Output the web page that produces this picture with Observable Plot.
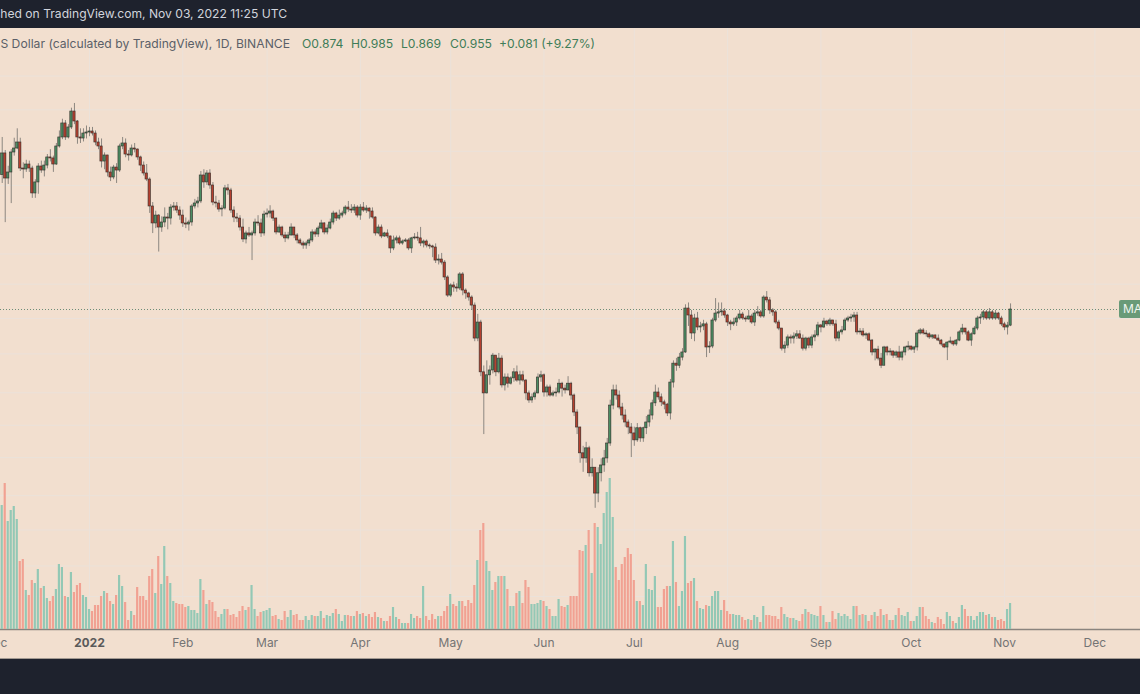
<!DOCTYPE html>
<html>
<head>
<meta charset="utf-8">
<script src="https://cdn.jsdelivr.net/npm/d3@7"></script>
<script src="https://cdn.jsdelivr.net/npm/@observablehq/plot@0.6"></script>
<style>
  html, body { margin: 0; padding: 0; width: 1140px; height: 694px; overflow: hidden; background: #1e222d; font-family: Inter, "Noto Sans", sans-serif; }
  #top { position: absolute; left: 0; top: 0; width: 1140px; height: 28px; background: #1e222d; overflow: hidden; }
  #top span { position: absolute; white-space: nowrap; color: #d1d4dc; top: 5px; line-height: 18px; }
  #pane { position: absolute; left: 0; top: 28px; width: 1140px; height: 630px; background: #f2dfcf; overflow: hidden; border-bottom: 1px solid #a39a92; }
  #pane svg { position: absolute; left: 0; top: 0; }
  .leg { position: absolute; white-space: nowrap; top: 8px; line-height: 16px; }
  #maLabel { position: absolute; left: 1119px; height: 18px; line-height: 18px; padding: 0 4px; background: #689a78; color: #eef5ef; font-size: 12px; border-radius: 2px; white-space: nowrap; }
</style>
</head>
<body>
<div id="top"><span id="pub">Published on TradingView.com, Nov 03, 2022 11:25 UTC</span></div>
<div id="pane">
  <div id="layers"></div>
  <span class="leg" id="legName" style="color:#5b5f68">MATIC / US Dollar (calculated by TradingView), 1D, BINANCE</span>
  <span class="leg ohlc" id="legO">O0.874</span>
  <span class="leg ohlc" id="legH">H0.985</span>
  <span class="leg ohlc" id="legL">L0.869</span>
  <span class="leg ohlc" id="legC">C0.955</span>
  <span class="leg ohlc" id="legChg">+0.081 (+9.27%)</span>
  <div id="maLabel">MATICUSD</div>
</div>
<script>
// ---------- DATA (daily candles, Binance MATIC/USD, from 2021-12-03) ----------
const firstOpen = 2.00;
const close = [
  // Dec 2021 (3..31)
  2.253,1.963,2.029,2.265,2.315,2.393,2.074,2.063,2.120,2.074,1.808,1.921,2.097,2.051,2.108,2.204,2.192,2.120,2.341,2.460,2.657,2.460,2.599,2.837,2.686,2.460,2.446,2.514,2.528,
  // Jan 2022
  2.542,2.514,2.393,2.341,2.155,2.228,2.029,1.974,2.085,2.051,2.341,2.380,2.240,2.228,2.315,2.302,2.204,2.108,2.018,1.952,1.683,1.533,1.601,1.499,1.541,1.584,1.575,1.673,1.683,1.646,1.601,
  // Feb
  1.533,1.524,1.541,1.683,1.711,1.730,1.996,1.921,2.018,1.889,1.720,1.711,1.655,1.664,1.859,1.838,1.646,1.584,1.575,1.499,1.404,1.451,1.435,1.451,1.541,1.533,1.451,1.610,
  // Mar
  1.619,1.637,1.575,1.459,1.499,1.435,1.412,1.435,1.499,1.435,1.396,1.373,1.358,1.373,1.396,1.459,1.443,1.491,1.533,1.459,1.491,1.541,1.619,1.575,1.601,1.619,1.673,1.655,1.646,1.673,1.601,
  // Apr
  1.673,1.646,1.664,1.637,1.584,1.451,1.499,1.427,1.451,1.427,1.336,1.396,1.412,1.373,1.388,1.396,1.336,1.412,1.419,1.412,1.373,1.388,1.358,1.351,1.343,1.250,1.257,1.236,1.139,1.031,
  // May
  1.090,1.078,1.072,1.158,1.060,1.043,1.020,0.976,0.814,0.889,0.676,0.602,0.665,0.683,0.741,0.676,0.729,0.629,0.657,0.635,0.654,0.676,0.646,0.665,0.646,0.602,0.579,0.589,0.602,0.657,0.665,
  // Jun
  0.605,0.622,0.595,0.602,0.605,0.635,0.618,0.612,0.635,0.595,0.542,0.499,0.433,0.421,0.445,0.388,0.400,0.347,0.388,0.405,0.421,0.457,0.563,0.612,0.595,0.557,0.533,0.513,0.499,0.483,
  // Jul
  0.465,0.497,0.470,0.497,0.513,0.533,0.570,0.605,0.589,0.573,0.566,0.539,0.639,0.709,0.701,0.733,0.754,0.960,0.924,0.837,0.909,0.865,0.870,0.880,0.775,0.779,0.899,0.934,0.940,0.945,0.924,
  // Aug
  0.889,0.880,0.889,0.909,0.929,0.909,0.904,0.919,0.889,0.934,0.940,0.919,1.020,1.004,0.950,0.940,0.889,0.860,0.770,0.783,0.819,0.814,0.823,0.833,0.814,0.770,0.814,0.783,0.819,0.828,0.875,
  // Sep
  0.865,0.894,0.880,0.899,0.880,0.814,0.842,0.851,0.899,0.909,0.914,0.924,0.842,0.846,0.828,0.833,0.805,0.754,0.766,0.729,0.701,0.775,0.754,0.758,0.741,0.754,0.733,0.754,0.775,0.779,
  // Oct
  0.766,0.775,0.837,0.851,0.837,0.833,0.819,0.828,0.814,0.805,0.788,0.775,0.796,0.801,0.788,0.805,0.842,0.860,0.842,0.805,0.833,0.860,0.909,0.914,0.940,0.909,0.940,0.909,0.934,0.909,0.880,
  // Nov
  0.865,0.874,0.955
];
const high = [
  2.46,2.29,2.10,2.30,2.45,2.58,2.45,2.14,2.17,2.16,2.10,1.95,2.13,2.16,2.16,2.24,2.30,2.22,2.38,2.55,2.72,2.70,2.64,2.89,2.966,2.70,2.58,2.58,2.62,
  2.60,2.60,2.55,2.45,2.44,2.26,2.23,2.09,2.11,2.13,2.37,2.46,2.44,2.29,2.36,2.38,2.31,2.22,2.15,2.12,1.97,1.72,1.64,1.61,1.59,1.67,1.62,1.70,1.72,1.72,1.68,
  1.65,1.58,1.56,1.70,1.75,1.77,2.04,2.06,2.05,2.06,1.92,1.78,1.74,1.69,1.89,1.90,1.86,1.68,1.62,1.60,1.57,1.47,1.50,1.47,1.57,1.60,1.57,1.64,
  1.66,1.69,1.65,1.58,1.52,1.51,1.46,1.46,1.53,1.50,1.45,1.41,1.39,1.39,1.41,1.48,1.48,1.51,1.56,1.54,1.52,1.57,1.64,1.63,1.65,1.64,1.69,1.73,1.70,1.70,1.69,
  1.70,1.72,1.69,1.67,1.67,1.59,1.52,1.52,1.46,1.48,1.43,1.43,1.43,1.43,1.40,1.41,1.41,1.42,1.45,1.46,1.50,1.40,1.40,1.37,1.36,1.37,1.29,1.30,1.25,1.15,
  1.10,1.11,1.10,1.17,1.17,1.07,1.05,1.03,0.99,0.93,0.90,0.70,0.72,0.70,0.75,0.74,0.75,0.74,0.67,0.67,0.66,0.69,0.70,0.68,0.68,0.65,0.61,0.60,0.61,0.67,0.68,
  0.67,0.63,0.63,0.61,0.62,0.65,0.64,0.63,0.66,0.64,0.60,0.55,0.50,0.45,0.46,0.45,0.42,0.40,0.40,0.42,0.44,0.47,0.58,0.63,0.63,0.61,0.57,0.55,0.52,0.51,
  0.50,0.51,0.50,0.50,0.53,0.55,0.58,0.63,0.62,0.60,0.58,0.57,0.65,0.72,0.73,0.75,0.77,0.98,0.99,0.95,0.93,0.94,0.89,0.90,0.89,0.80,0.91,1.014,0.99,0.99,0.96,
  0.93,0.90,0.91,0.92,0.95,0.94,0.92,0.95,0.93,0.95,0.97,0.95,1.03,1.054,1.02,0.96,0.95,0.90,0.86,0.80,0.83,0.83,0.84,0.85,0.85,0.83,0.82,0.82,0.83,0.85,0.89,
  0.88,0.91,0.90,0.91,0.90,0.90,0.85,0.87,0.91,0.92,0.93,0.94,0.94,0.86,0.86,0.84,0.84,0.81,0.77,0.78,0.75,0.78,0.78,0.77,0.76,0.76,0.78,0.76,0.78,0.80,
  0.78,0.78,0.85,0.86,0.86,0.85,0.84,0.83,0.83,0.83,0.81,0.79,0.80,0.82,0.80,0.81,0.85,0.88,0.86,0.85,0.84,0.87,0.92,0.93,0.95,0.95,0.96,0.95,0.95,0.94,0.92,
  0.89,0.89,0.985
];
const low = [
  1.91,1.54,1.90,1.71,2.22,2.30,2.04,1.96,2.03,2.03,1.76,1.76,1.80,2.02,1.98,2.07,2.15,2.03,2.11,2.32,2.43,2.42,2.44,2.57,2.64,2.37,2.38,2.40,2.44,
  2.47,2.48,2.35,2.30,2.08,2.06,1.98,1.93,1.95,1.91,2.03,2.30,2.20,2.16,2.21,2.26,2.17,2.04,1.99,1.93,1.62,1.45,1.49,1.31,1.46,1.50,1.48,1.52,1.64,1.62,1.56,
  1.50,1.49,1.47,1.51,1.66,1.67,1.71,1.86,1.89,1.85,1.69,1.67,1.63,1.59,1.65,1.79,1.62,1.54,1.54,1.47,1.38,1.37,1.42,1.25,1.43,1.51,1.42,1.43,
  1.58,1.58,1.55,1.44,1.45,1.42,1.38,1.40,1.43,1.41,1.37,1.36,1.33,1.33,1.35,1.38,1.42,1.42,1.48,1.44,1.44,1.48,1.52,1.55,1.56,1.58,1.60,1.63,1.62,1.62,1.58,
  1.56,1.63,1.62,1.57,1.57,1.43,1.44,1.41,1.42,1.41,1.30,1.32,1.37,1.36,1.36,1.38,1.32,1.30,1.40,1.39,1.35,1.34,1.34,1.33,1.27,1.23,1.22,1.22,1.12,1.02,
  1.02,1.05,1.05,1.06,1.03,1.01,1.00,0.95,0.80,0.80,0.66,0.480,0.60,0.63,0.67,0.66,0.67,0.62,0.61,0.62,0.63,0.64,0.64,0.63,0.64,0.58,0.57,0.57,0.58,0.60,0.64,
  0.59,0.59,0.59,0.59,0.59,0.60,0.59,0.60,0.61,0.58,0.53,0.48,0.41,0.39,0.41,0.38,0.38,0.320,0.33,0.37,0.39,0.41,0.45,0.55,0.58,0.55,0.52,0.50,0.48,0.423,
  0.45,0.46,0.46,0.46,0.48,0.50,0.52,0.56,0.58,0.56,0.55,0.53,0.52,0.62,0.68,0.69,0.72,0.75,0.87,0.81,0.80,0.85,0.84,0.85,0.733,0.75,0.77,0.89,0.91,0.92,0.91,
  0.87,0.85,0.87,0.87,0.90,0.90,0.89,0.90,0.88,0.87,0.92,0.91,0.91,0.99,0.93,0.92,0.88,0.85,0.76,0.75,0.77,0.79,0.79,0.81,0.81,0.76,0.76,0.77,0.77,0.80,0.82,
  0.84,0.86,0.87,0.87,0.87,0.80,0.80,0.83,0.85,0.89,0.89,0.89,0.83,0.83,0.82,0.81,0.80,0.74,0.72,0.72,0.69,0.70,0.74,0.74,0.73,0.73,0.72,0.72,0.74,0.76,
  0.76,0.75,0.76,0.83,0.83,0.82,0.81,0.81,0.81,0.80,0.78,0.77,0.721,0.79,0.78,0.78,0.80,0.83,0.83,0.80,0.78,0.83,0.85,0.88,0.90,0.90,0.90,0.90,0.90,0.90,0.87,
  0.85,0.83,0.869
];
// volume, millions
const volume = [
  248,292,216,238,246,220,136,140,78,68,98,92,120,82,86,62,56,66,80,130,124,66,64,114,74,88,92,68,64,
  40,36,48,48,66,76,72,56,50,68,108,86,54,18,36,28,84,66,66,58,106,120,72,146,90,166,106,92,56,52,50,
  50,44,46,38,38,32,100,78,50,58,54,36,24,30,40,40,28,30,24,36,46,38,44,88,40,26,34,36,
  38,42,26,28,20,18,36,24,38,28,30,18,18,26,18,28,26,26,36,22,28,26,32,40,30,16,28,28,26,26,36,
  30,32,26,30,24,34,24,22,16,16,26,44,24,20,12,12,12,30,22,26,22,86,26,18,30,20,26,26,36,46,
  70,50,46,56,56,46,58,52,88,138,198,212,136,116,78,94,106,106,106,80,46,46,72,76,52,98,84,50,50,52,58,
  56,46,40,26,26,60,46,44,48,66,66,66,158,156,168,198,112,212,204,170,232,274,302,224,124,98,130,144,162,150,
  98,56,56,48,130,80,78,106,44,44,80,86,86,176,94,46,76,186,92,96,102,56,42,40,48,46,66,76,76,38,58,
  36,30,30,28,28,24,18,20,18,28,24,14,46,28,28,26,26,20,44,30,24,22,22,18,16,30,40,34,30,28,26,
  46,28,14,14,36,20,32,26,30,26,20,46,46,28,30,28,16,28,34,26,40,28,30,18,18,28,42,28,26,34,
  16,16,26,44,44,26,20,14,12,24,20,10,34,26,16,12,24,48,40,26,26,18,26,34,34,28,30,24,24,18,20,
  16,40,52
];
// price-scale grid levels (log scale)
const gridPrices = [3.449, 2.864, 2.280, 1.888, 1.581, 1.296, 1.098, 0.909, 0.748, 0.604, 0.505, 0.423, 0.343, 0.284, 0.233, 0.197];
// time-axis ticks
const monthTicks = ["2021-12-01","2022-01-01","2022-02-01","2022-03-01","2022-04-01","2022-05-01","2022-06-01","2022-07-01","2022-08-01","2022-09-01","2022-10-01","2022-11-01","2022-12-01"];
const monthLabels = ["Dec","2022","Feb","Mar","Apr","May","Jun","Jul","Aug","Sep","Oct","Nov","Dec"];
const lastClose = 0.955;

// ---------- BUILD ----------
const DAY = 864e5;
const rows = close.map((c, i) => {
  const open = i === 0 ? firstOpen : close[i - 1];
  return { date: new Date(Date.UTC(2021, 11, 3 + i)), open, close: c, high: high[i], low: low[i], volume: volume[i], up: c >= open };
});
const tickDates = monthTicks.map(s => new Date(s + "T00:00:00Z"));
const labelOf = new Map(tickDates.map((d, i) => [+d, monthLabels[i]]));

const W = 1140, H = 630, MB = 29;
const xDomain = [new Date(Date.UTC(2021, 11, 2, 10, 22)), new Date(Date.UTC(2022, 11, 16, 4, 5))];
const base = {
  width: W, height: H, marginTop: 0, marginRight: 0, marginBottom: MB, marginLeft: 0,
  style: { background: "transparent", overflow: "visible", fontFamily: "Inter, 'Noto Sans', sans-serif" }
};
const yPrice = { type: "log", domain: [0.1643, 4.4795], axis: null };
const gridColor = "#ebe2da";

const gridPlot = Plot.plot({
  ...base,
  x: { type: "utc", domain: xDomain },
  y: yPrice,
  marks: [
    Plot.ruleY(gridPrices, { stroke: gridColor, strokeWidth: 1 }),
    Plot.ruleX(tickDates, { stroke: gridColor, strokeWidth: 1 }),
    Plot.ruleY([0.1643], { stroke: "#8a847e", strokeWidth: 1.5 }),
    Plot.axisX({ ticks: tickDates.filter((d, i) => monthLabels[i] !== "2022"), tickFormat: d => labelOf.get(+d), tickSize: 0, tickPadding: 9, fontSize: 12, color: "#747474", label: null }),
    Plot.axisX({ ticks: tickDates.filter((d, i) => monthLabels[i] === "2022"), tickFormat: d => labelOf.get(+d), tickSize: 0, tickPadding: 9, fontSize: 12, fontWeight: "bold", color: "#5a5a5a", label: null })
  ]
});

const volPlot = Plot.plot({
  ...base,
  x: { type: "utc", domain: xDomain, axis: null },
  y: { domain: [0, 1202], axis: null },
  marks: [
    Plot.rect(rows, {
      x1: d => new Date(+d.date - 0.36 * DAY), x2: d => new Date(+d.date + 0.36 * DAY),
      y1: 0, y2: "volume",
      fill: d => d.up ? "#93c8b5" : "#f1a192"
    })
  ]
});

const pricePlot = Plot.plot({
  ...base,
  x: { type: "utc", domain: xDomain, axis: null },
  y: yPrice,
  marks: [
    Plot.ruleY([lastClose], { stroke: "#6d8d78", strokeWidth: 1, strokeDasharray: "1 2" }),
    Plot.ruleX(rows, { x: "date", y1: "low", y2: "high", stroke: "#8c8780", strokeWidth: 1 }),
    Plot.rect(rows, {
      x1: d => new Date(+d.date - 0.38 * DAY), x2: d => new Date(+d.date + 0.38 * DAY),
      y1: "open", y2: "close",
      fill: d => d.up ? "#4b8d63" : "#b6402f",
      stroke: "#2f2a26", strokeWidth: 0.7, strokeOpacity: 0.85
    })
  ]
});

const layers = document.getElementById("layers");
layers.append(gridPlot, volPlot, pricePlot);

// symbol label on the (cropped) price axis
const yLast = pricePlot.scale("y").apply(lastClose);
const ma = document.getElementById("maLabel");
ma.style.top = (yLast - 9) + "px";

// ---------- header texts ----------
const ctx = document.createElement("canvas").getContext("2d");
function fitSize(text, target, weight) {
  ctx.font = `${weight || 400} 100px Inter`;
  return 100 * target / ctx.measureText(text).width;
}
const pub = document.getElementById("pub");
const pubSize = fitSize("hed on TradingView.com, Nov 03, 2022 11:25 UTC", 287);
pub.style.fontSize = pubSize + "px";
pub.style.right = (1140 - 287) + "px";

const legSize = fitSize("S Dollar (calculated by TradingView), 1D, BINANCE", 290);
const legName = document.getElementById("legName");
legName.style.fontSize = legSize + "px";
legName.style.right = (1140 - 290) + "px";
const ohlcPos = { legO: 302, legH: 351, legL: 401, legC: 450, legChg: 499 };
for (const [id, x] of Object.entries(ohlcPos)) {
  const el = document.getElementById(id);
  el.style.left = x + "px";
  el.style.fontSize = legSize + "px";
  el.style.color = "#3f7d58";
}
</script>
</body>
</html>
